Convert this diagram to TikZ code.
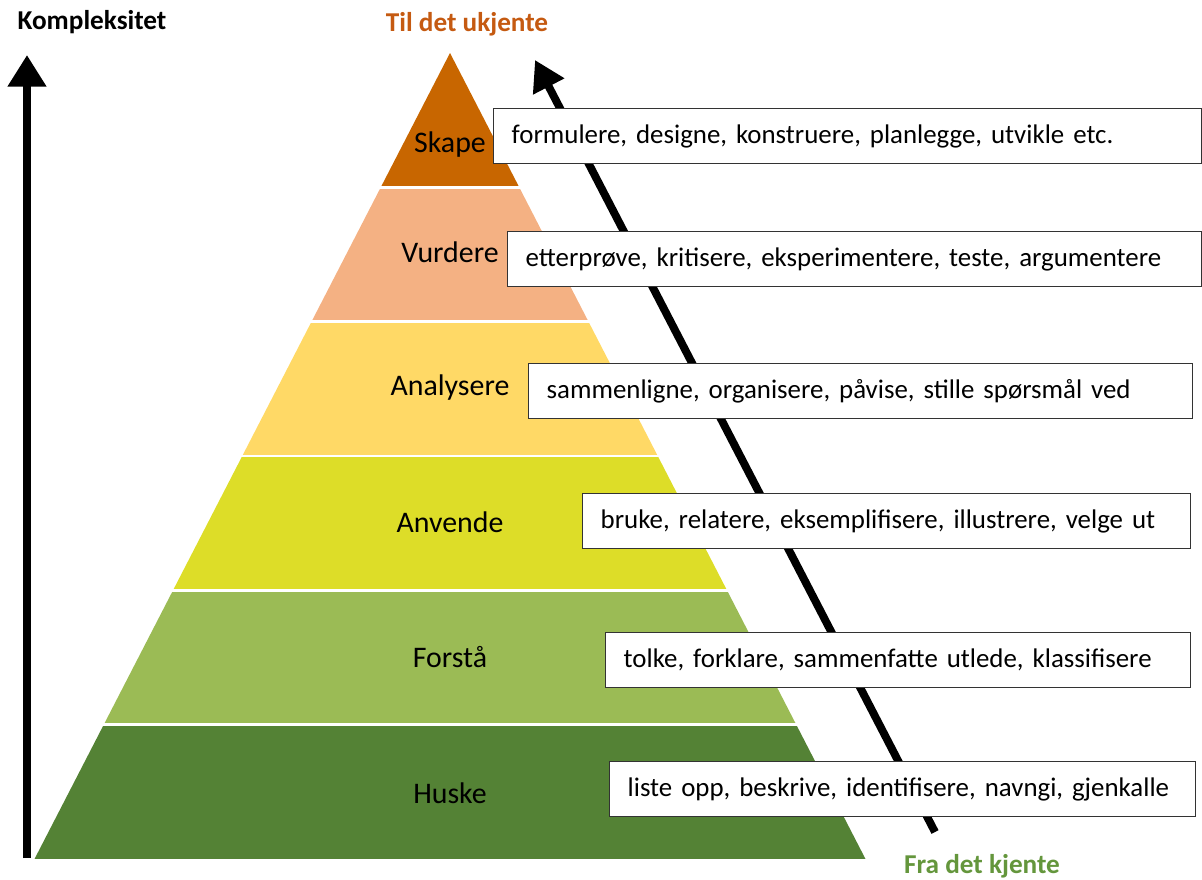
\documentclass[tikz,border=0pt]{standalone}
\usepackage{fontspec}
\setmainfont{Carlito}
\usepackage{tikz}
\usetikzlibrary{arrows.meta,calc}
\definecolor{skapeFarge}{RGB}{200,102,0}
\definecolor{vurdereFarge}{RGB}{244,177,131}
\definecolor{analysereFarge}{RGB}{255,217,102}
\definecolor{anvendeFarge}{RGB}{221,221,40}
\definecolor{forstaFarge}{RGB}{155,187,85}
\definecolor{huskeFarge}{RGB}{84,130,53}
\definecolor{ukjentFarge}{RGB}{197,90,17}
\definecolor{kjentFarge}{RGB}{100,150,60}
\tikzstyle{nivaa} =[font=\fontsize{17}{20}\selectfont, inner sep=0pt]
\tikzstyle{boks}  =[draw=black!80, fill=white, line width=0.8pt,
                    anchor=west, inner xsep=0.36cm, minimum height=1.1cm,
                    align=left, font=\fontsize{15.3}{18}\selectfont]
\tikzstyle{pil}   =[line width=4.5pt, -{Triangle[length=18pt,width=21pt]}]
\tikzstyle{tittel}=[font=\bfseries\fontsize{15.5}{18}\selectfont]

\begin{document}
\begin{tikzpicture}[x=0.02cm, y=-0.02cm]
    \useasboundingbox (0,0) rectangle (1202,879);

        \begin{scope}[]
            \foreach \k/\farge in {0/skapeFarge,1/vurdereFarge,2/analysereFarge,3/anvendeFarge,4/forstaFarge,5/huskeFarge} {
                \pgfmathsetmacro\yt{53+134.33*\k}
                \pgfmathsetmacro\yb{53+134.33*(\k+1)}
                \pgfmathsetmacro\wt{0.5155*(\yt-53)}
                \pgfmathsetmacro\wb{0.5155*(\yb-53)}
                \fill [\farge] (450-\wt,\yt) -- (450+\wt,\yt) -- (450+\wb,\yb) -- (450-\wb,\yb) -- cycle;
            }
            \foreach \k in {1,...,5} {
                \pgfmathsetmacro\yt{53+134.33*\k}
                \draw [white, line width=1.7pt] (0,\yt) -- (900,\yt);
            }
        \end{scope}

        \begin{scope}[]
            \draw (450,145) node (skape) [nivaa] {Skape};
            \draw (450,252) node (vurdere) [nivaa] {Vurdere};
            \draw (450,388) node (analysere) [nivaa] {Analysere};
            \draw (450,522) node (anvende) [nivaa] {Anvende};
            \draw (450,657) node (forsta) [nivaa] {Forstå};
            \draw (450,793) node (huske) [nivaa] {Huske};
        \end{scope}

        \begin{scope}[]
            \coordinate (kompBunn) at (27,858);
            \coordinate (kompTopp) at (27,55);
            \coordinate (kjentBunn) at (935,832);
            \coordinate (ukjentTopp) at (535,60);
            \draw [pil] (kompBunn) -- (kompTopp);
            \draw [pil, -{Triangle[length=17pt,width=19pt]}] (kjentBunn) -- (ukjentTopp);
        \end{scope}

        \begin{scope}[]
            \draw (493,136) node (bSkape) [boks, text width=13.44cm] {formulere, designe, konstruere, planlegge, utvikle etc.};
            \draw (507,259) node (bVurdere) [boks, text width=13.16cm] {etterprøve, kritisere, eksperimentere, teste, argumentere};
            \draw (528,391) node (bAnalysere) [boks, text width=12.56cm] {sammenligne, organisere, påvise, stille spørsmål ved};
            \draw (582,521) node (bAnvende) [boks, text width=11.44cm] {bruke, relatere, eksemplifisere, illustrere, velge ut};
            \draw (605,660) node (bForsta) [boks, text width=10.98cm] {tolke, forklare, sammenfatte utlede, klassifisere};
            \draw (609,789) node (bHuske) [boks, text width=11.0cm] {liste opp, beskrive, identifisere, navngi, gjenkalle};
        \end{scope}

        \begin{scope}[]
            \draw (92,22) node (kompleksitet) [tittel] {Kompleksitet};
            \draw (467,24) node (ukjente) [tittel, text=ukjentFarge] {Til det ukjente};
            \draw (982,866) node (kjente) [tittel, text=kjentFarge] {Fra det kjente};
        \end{scope}

    \end{tikzpicture}
\end{document}
